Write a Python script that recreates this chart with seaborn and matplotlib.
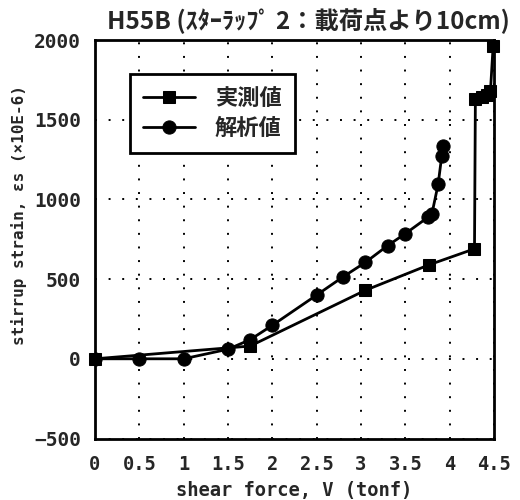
import matplotlib
matplotlib.use("Agg")
import matplotlib.pyplot as plt
import seaborn as sns
import pandas as pd
from matplotlib.ticker import MultipleLocator

# ---- data ----
meas_v = [0.0, 1.75, 3.05, 3.77, 4.28, 4.29, 4.36, 4.42, 4.46, 4.49]
meas_e = [0, 80, 430, 590, 690, 1630, 1640, 1655, 1680, 1960]
anal_v = [0.0, 0.5, 1.0, 1.5, 1.75, 2.0, 2.5, 2.8, 3.05, 3.3, 3.5, 3.76, 3.80, 3.87, 3.91, 3.92]
anal_e = [0, 0, 0, 60, 120, 210, 400, 515, 605, 710, 785, 890, 910, 1095, 1270, 1335]
series_labels = ["実測値", "解析値"]
title = "H55B (ｽﾀｰﾗｯﾌﾟ 2：載荷点より10cm)"
xlabel = "shear force, V (tonf)"
ylabel = "stirrup strain, εs (×10E-6)"
xticks = [0, 0.5, 1, 1.5, 2, 2.5, 3, 3.5, 4, 4.5]
xticklabels = ["0", "0.5", "1", "1.5", "2", "2.5", "3", "3.5", "4", "4.5"]
yticks = [-500, 0, 500, 1000, 1500, 2000]

sns.set_style("white")
plt.rcParams['font.family'] = ['DejaVu Sans Mono', 'Noto Sans CJK JP']
plt.rcParams['font.weight'] = 'bold'

fig = plt.figure(figsize=(5.2, 5.0), dpi=100)
ax = fig.add_axes([95/520, 1-438.5/500, 399/520, 398.5/500])

df_m = pd.DataFrame({"V": meas_v, "e": meas_e})
df_a = pd.DataFrame({"V": anal_v, "e": anal_e})
sns.lineplot(data=df_m, x="V", y="e", ax=ax, sort=False, estimator=None,
             color="black", lw=2, marker="s", markersize=8, markeredgecolor="black",
             label=series_labels[0], clip_on=False, zorder=3)
sns.lineplot(data=df_a, x="V", y="e", ax=ax, sort=False, estimator=None,
             color="black", lw=2, marker="o", markersize=9.5, markeredgecolor="black",
             label=series_labels[1], zorder=3)

ax.set_xlim(0, 4.5)
ax.set_ylim(-500, 2000)
ax.set_xticks(xticks)
ax.set_xticklabels(xticklabels)
ax.set_yticks(yticks)
ax.xaxis.set_minor_locator(MultipleLocator(0.1))
ax.yaxis.set_minor_locator(MultipleLocator(100))
ax.tick_params(which="both", direction="in", color="black")
ax.tick_params(which="major", length=6, width=1.5)
ax.tick_params(axis="x", which="major", labelsize=13.5, pad=12)
ax.tick_params(axis="y", which="major", labelsize=14, pad=10)
ax.tick_params(which="minor", length=4, width=1.2)
ax.tick_params(axis="x", which="minor", length=3)
for lab in ax.get_xticklabels() + ax.get_yticklabels():
    lab.set_fontweight("bold")

ax.grid(True, which="major", color="black", lw=1.4, linestyle=(0, (1, 6)))
for s in ax.spines.values():
    s.set_color("black")
    s.set_linewidth(2)
    s.set_visible(True)

ax.set_xlabel(xlabel, fontsize=13.5, fontweight="bold", labelpad=5)
ax.set_ylabel(ylabel, fontsize=11.5, fontweight="bold")
ax.yaxis.set_label_coords(-0.17, 0.56)
fig.text(0.594, 0.96, title, ha="center", va="center", fontsize=17.5,
         fontweight="bold", family=['Noto Sans CJK JP', 'DejaVu Sans'])

leg = ax.legend(loc="upper left", bbox_to_anchor=(0.088, 0.915), frameon=True,
                fancybox=False, edgecolor="black", framealpha=1,
                prop={"family": ['Noto Sans CJK JP'], "weight": "bold", "size": 16},
                handlelength=2.3, handletextpad=0.9, borderpad=0.6, labelspacing=0.3,
                borderaxespad=0)
leg.get_frame().set_linewidth(2)

fig.savefig("out.png", dpi=100)
